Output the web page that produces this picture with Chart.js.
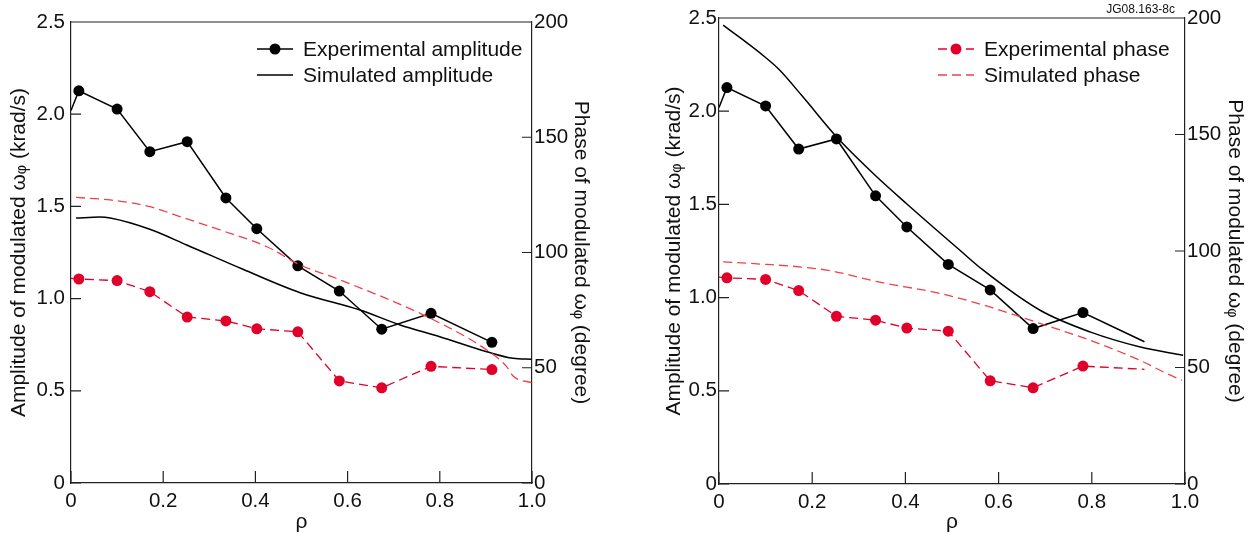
<!DOCTYPE html>
<html lang="en">
<head>
<meta charset="UTF-8">
<title>Modulated toroidal rotation</title>
<script src="https://cdn.jsdelivr.net/npm/chart.js@4"></script>
<style>
  body { margin: 0; background: #fff; width: 1255px; height: 539px; position: relative; overflow: hidden; }
  .panel { position: absolute; top: 0; }
  #left { left: 0; }
  #right { left: 662px; }
  #tag { position: absolute; right: 80px; top: 2px; font: 12px 'Liberation Sans', Arial, sans-serif; color: #111; }
</style>
</head>
<body>
<canvas id="left" class="panel" width="615" height="539"></canvas>
<canvas id="right" class="panel" width="593" height="539"></canvas>
<div id="tag">JG08.163-8c</div>

<script>
    // measured profiles (shared by both panels)
    const rhoExp   = [0, 0.017, 0.100, 0.171, 0.252, 0.336, 0.403, 0.492, 0.582, 0.674, 0.781, 0.913];
    const ampExp   = [2.02, 2.127, 2.028, 1.797, 1.851, 1.546, 1.379, 1.178, 1.041, 0.834, 0.920, 0.763];
    const phaseExp = [88.8, 88.5, 87.8, 83.0, 72.0, 70.3, 66.9, 65.6, 44.3, 41.3, 50.6, 49.2];

    // simulation, left panel
    const rhoAmpSimA   = [0.011, 0.063, 0.085, 0.171, 0.251, 0.373, 0.497, 0.627, 0.714, 0.800, 0.902, 0.959, 0.999];
    const ampSimA      = [1.437, 1.442, 1.437, 1.376, 1.291, 1.159, 1.032, 0.938, 0.857, 0.793, 0.712, 0.676, 0.671];
    const rhoPhaseSimA = [0.011, 0.085, 0.171, 0.236, 0.323, 0.425, 0.497, 0.584, 0.779, 0.902, 0.945, 0.959, 0.999];
    const phaseSimA    = [123.9, 122.8, 119.9, 115.6, 109.8, 102.5, 94.6, 88.1, 71.5, 57.7, 50.5, 46.4, 43.5];

    // simulation, right panel
    const rhoAmpSimB   = [0.009, 0.098, 0.130, 0.180, 0.252, 0.331, 0.402, 0.517, 0.567, 0.689, 0.796, 0.904, 0.996];
    const ampSimB      = [2.462, 2.292, 2.221, 2.077, 1.863, 1.666, 1.505, 1.254, 1.147, 0.932, 0.816, 0.735, 0.691];
    const rhoPhaseSimB = [0.009, 0.066, 0.231, 0.345, 0.474, 0.581, 0.689, 0.796, 0.903, 0.961, 0.993];
    const phaseSimB    = [95.3, 94.7, 91.8, 86.6, 81.8, 76.0, 68.9, 61.7, 53.1, 47.4, 44.5];

    const rhoTicks   = [0, 0.2, 0.4, 0.6, 0.8, 1.0];
    const ampTicks   = [0, 0.5, 1.0, 1.5, 2.0, 2.5];
    const phaseTicks = [0, 50, 100, 150, 200];

    const BLACK = '#000000';
    const RED = '#e0002a';
    const RED_SIM = '#f0404a';
    const FONT = "'Liberation Sans', Arial, sans-serif";

    Chart.defaults.font.family = FONT;
    Chart.defaults.color = '#111';

    function pts(xs, ys) {
        return xs.map((x, i) => ({ x: x, y: ys[i] }));
    }

    // frame top line + inward tick marks
    const framePlugin = {
        id: 'frame',
        afterDatasetsDraw(chart) {
            const { ctx, chartArea: a, scales } = chart;
            ctx.save();
            ctx.strokeStyle = '#222';
            ctx.lineWidth = 1.2;
            ctx.beginPath();
            ctx.moveTo(a.left, a.top);
            ctx.lineTo(a.right, a.top);
            rhoTicks.forEach(v => {
                const px = scales.x.getPixelForValue(v);
                ctx.moveTo(px, a.bottom);
                ctx.lineTo(px, a.bottom - 12);
            });
            ampTicks.forEach(v => {
                const py = scales.y.getPixelForValue(v);
                ctx.moveTo(a.left, py);
                ctx.lineTo(a.left + 10, py);
            });
            phaseTicks.forEach(v => {
                const py = scales.y1.getPixelForValue(v);
                ctx.moveTo(a.right, py);
                ctx.lineTo(a.right - 10, py);
            });
            ctx.stroke();
            ctx.restore();
        }
    };

    function legendPlugin(x0, rows) {
        return {
            id: 'panelLegend',
            afterDraw(chart) {
                const ctx = chart.ctx;
                ctx.save();
                rows.forEach(r => {
                    ctx.strokeStyle = r.color;
                    ctx.lineWidth = r.width;
                    ctx.setLineDash(r.dash);
                    ctx.beginPath();
                    ctx.moveTo(x0, r.y);
                    ctx.lineTo(x0 + 36, r.y);
                    ctx.stroke();
                    ctx.setLineDash([]);
                    if (r.marker) {
                        ctx.fillStyle = r.color;
                        ctx.beginPath();
                        ctx.arc(x0 + 18, r.y, 5.5, 0, Math.PI * 2);
                        ctx.fill();
                    }
                    ctx.fillStyle = '#111';
                    ctx.font = '21px ' + FONT;
                    ctx.textBaseline = 'middle';
                    ctx.fillText(r.label, x0 + 46, r.y + 1);
                });
                ctx.restore();
            }
        };
    }

    function makePanel(id, p) {
        const lastHidden = p.hideLast;
        const radii = rhoExp.map((r, i) => (i === 0 || (lastHidden && i === rhoExp.length - 1)) ? 0 : 5.5);

        new Chart(document.getElementById(id), {
            type: 'line',
            data: {
                datasets: [
                    {
                        label: 'Simulated phase',
                        data: pts(p.rhoPhaseSim, p.phaseSim),
                        yAxisID: 'y1',
                        borderColor: RED_SIM,
                        borderWidth: 1.3,
                        borderDash: [9, 5],
                        pointRadius: 0,
                        cubicInterpolationMode: 'monotone'
                    },
                    {
                        label: 'Simulated amplitude',
                        data: pts(p.rhoAmpSim, p.ampSim),
                        yAxisID: 'y',
                        borderColor: BLACK,
                        borderWidth: 1.5,
                        pointRadius: 0,
                        cubicInterpolationMode: 'monotone'
                    },
                    {
                        label: 'Experimental phase',
                        data: pts(rhoExp, phaseExp),
                        yAxisID: 'y1',
                        borderColor: RED,
                        backgroundColor: RED,
                        borderWidth: 1.3,
                        borderDash: [9, 5],
                        pointRadius: radii,
                        pointBorderWidth: 0,
                        tension: 0
                    },
                    {
                        label: 'Experimental amplitude',
                        data: pts(rhoExp, ampExp),
                        yAxisID: 'y',
                        borderColor: BLACK,
                        backgroundColor: BLACK,
                        borderWidth: 1.5,
                        pointRadius: radii,
                        pointBorderWidth: 0,
                        tension: 0
                    }
                ]
            },
            options: {
                responsive: false,
                animation: false,
                devicePixelRatio: 1,
                layout: { padding: { top: p.top, left: 0, right: 0, bottom: 0 } },
                plugins: { legend: { display: false }, tooltip: { enabled: false } },
                scales: {
                    x: {
                        type: 'linear',
                        min: 0, max: 1,
                        afterBuildTicks: s => { s.ticks = rhoTicks.map(v => ({ value: v })); },
                        afterFit: s => { s.height = 539 - p.bottom; },
                        ticks: {
                            font: { size: 20.5 },
                            padding: 6,
                            callback: v => v === 0 ? '0' : v.toFixed(1)
                        },
                        grid: { drawOnChartArea: false, drawTicks: false },
                        border: { color: '#222', width: 1.2 },
                        title: { display: true, text: 'ρ', font: { size: 21 }, padding: { top: 0, bottom: 4 } }
                    },
                    y: {
                        position: 'left',
                        min: 0, max: 2.5,
                        afterBuildTicks: s => { s.ticks = ampTicks.map(v => ({ value: v })); },
                        afterFit: s => { s.width = p.leftW; },
                        ticks: {
                            font: { size: 20.5 },
                            padding: p.leftTickPad,
                            callback: v => v === 0 ? '0' : v.toFixed(1)
                        },
                        grid: { drawOnChartArea: false, drawTicks: false },
                        border: { color: '#222', width: 1.2 },
                        title: {
                            display: true,
                            text: 'Amplitude of modulated ωᵩ (krad/s)',
                            font: { size: 21 },
                            padding: { top: p.leftPad, bottom: 0 }
                        }
                    },
                    y1: {
                        position: 'right',
                        min: 0, max: 200,
                        afterBuildTicks: s => { s.ticks = phaseTicks.map(v => ({ value: v })); },
                        afterFit: s => { s.width = p.rightW; },
                        ticks: {
                            font: { size: 20.5 },
                            padding: 2,
                            callback: v => String(v)
                        },
                        grid: { drawOnChartArea: false, drawTicks: false },
                        border: { color: '#222', width: 1.2 },
                        title: {
                            display: true,
                            text: 'Phase of modulated ωᵩ (degree)',
                            font: { size: 21 },
                            padding: { top: p.rightPad, bottom: 0 }
                        }
                    }
                }
            },
            plugins: [framePlugin, legendPlugin(p.legendX, p.legendRows)]
        });
    }

    makePanel('left', {
        rhoAmpSim: rhoAmpSimA, ampSim: ampSimA,
        rhoPhaseSim: rhoPhaseSimA, phaseSim: phaseSimA,
        hideLast: false,
        top: 22, bottom: 483, leftW: 71, rightW: 615 - 532,
        leftPad: 7, rightPad: 22, leftTickPad: 6,
        legendX: 257,
        legendRows: [
            { label: 'Experimental amplitude', color: BLACK, width: 1.5, dash: [], marker: true, y: 49 },
            { label: 'Simulated amplitude', color: BLACK, width: 1.5, dash: [], marker: false, y: 75 }
        ]
    });

    makePanel('right', {
        rhoAmpSim: rhoAmpSimB, ampSim: ampSimB,
        rhoPhaseSim: rhoPhaseSimB, phaseSim: phaseSimB,
        hideLast: true,
        top: 18, bottom: 484, leftW: 57, rightW: 593 - 523,
        leftPad: 0, rightPad: 8, leftTickPad: 2,
        legendX: 276,
        legendRows: [
            { label: 'Experimental phase', color: RED, width: 1.3, dash: [9, 5], marker: true, y: 49 },
            { label: 'Simulated phase', color: RED_SIM, width: 1.3, dash: [9, 5], marker: false, y: 75 }
        ]
    });
</script>
</body>
</html>
